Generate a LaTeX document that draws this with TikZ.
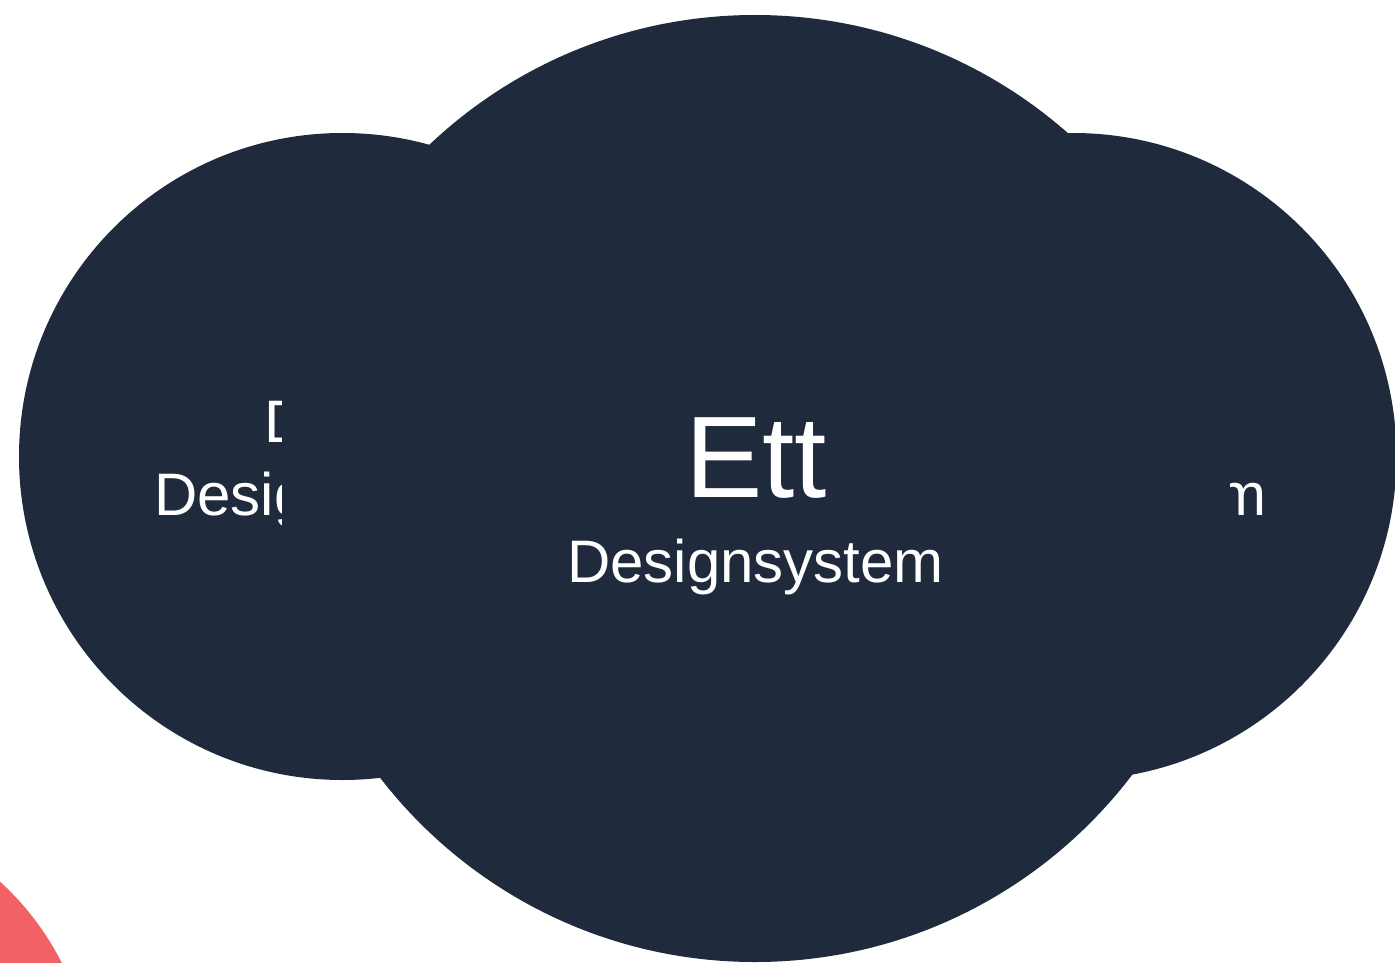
\documentclass[tikz,border=0pt]{standalone}
\usepackage{fontspec}
\setmainfont{Liberation Sans}
\definecolor{navy}{HTML}{1F2A3C}
\definecolor{coral}{HTML}{F26166}
\tikzset{
  bubble/.style={circle, fill=navy, draw=none, inner sep=0pt},
  bigtxt/.style={text=white, inner sep=0pt, anchor=base, font=\fontsize{116}{139}\selectfont},
  subtxt/.style={text=white, inner sep=0pt, anchor=base, font=\fontsize{60}{72}\selectfont},
}
\begin{document}
\begin{tikzpicture}[x=1pt,y=-1pt]
\useasboundingbox (0,0) rectangle (1395,963);
\fill[white] (0,0) rectangle (1395,963);
\fill[coral] (-190,1090) circle (282pt);
\node[bubble, minimum size=647pt] (leftc) at (342.5,456.5) {};
\node[bubble, minimum size=647pt] (rightc) at (1073,456.5) {};
\node[bubble, minimum size=947pt] (midc) at (755,488.5) {};
\begin{scope}
  \clip (-10,-10) rectangle (281.5,1000) (1229.5,-10) rectangle (1500,1000);
  \node[subtxt, anchor=base west] (lefttop) at (264.5,442) {D};
  \node[subtxt] (leftsub) at (342.5,515) {Designsystem};
  \node[subtxt] (rightsub) at (1078,515) {Designsystem};
\end{scope}
\node[bigtxt] (ett) at (756,497) {Ett};
\node[subtxt] (midsub) at (755.5,582) {Designsystem};
\end{tikzpicture}
\end{document}
